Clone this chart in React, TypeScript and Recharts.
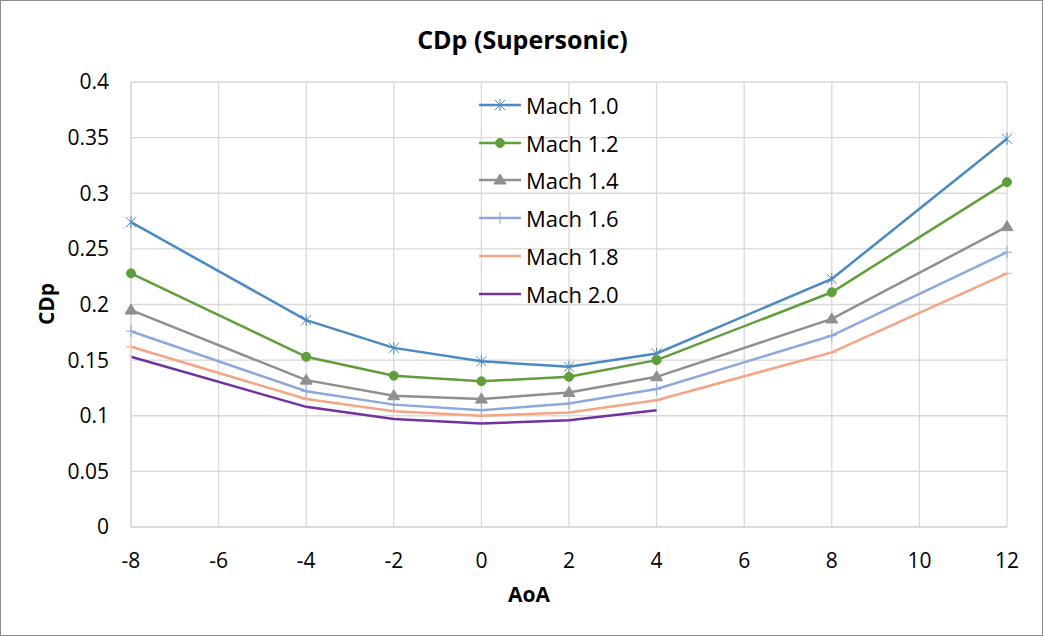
import { CartesianGrid, Line, LineChart, XAxis, YAxis } from "recharts";

const aoa = [-8, -4, -2, 0, 2, 4, 8, 12];
const mach10 = [0.274, 0.186, 0.161, 0.149, 0.144, 0.156, 0.223, 0.349];
const mach12 = [0.228, 0.153, 0.136, 0.131, 0.135, 0.15, 0.211, 0.31];
const mach14 = [0.195, 0.132, 0.118, 0.115, 0.121, 0.135, 0.187, 0.27];
const mach16 = [0.176, 0.122, 0.11, 0.105, 0.111, 0.124, 0.172, 0.247];
const mach18 = [0.162, 0.115, 0.104, 0.1, 0.103, 0.114, 0.157, 0.228];
const mach20 = [0.153, 0.108, 0.097, 0.093, 0.096, 0.105, null, null];

const xTicks = [-8, -6, -4, -2, 0, 2, 4, 6, 8, 10, 12];
const yTicks = [0, 0.05, 0.1, 0.15, 0.2, 0.25, 0.3, 0.35, 0.4];

const series = [
  { key: "m10", name: "Mach 1.0", values: mach10, color: "#4a89c2", marker: "star" },
  { key: "m12", name: "Mach 1.2", values: mach12, color: "#5f9e3a", marker: "circle" },
  { key: "m14", name: "Mach 1.4", values: mach14, color: "#8f8f8f", marker: "triangle" },
  { key: "m16", name: "Mach 1.6", values: mach16, color: "#8ea7dc", marker: "plus" },
  { key: "m18", name: "Mach 1.8", values: mach18, color: "#f4a584", marker: "dash" },
  { key: "m20", name: "Mach 2.0", values: mach20, color: "#7032a0", marker: "none" },
];

const data = aoa.map((x, i) => {
  const row: Record<string, number | null> = { aoa: x };
  series.forEach((s) => (row[s.key] = s.values[i]));
  return row;
});

const FONT = "'Open Sans', 'Liberation Sans', sans-serif";

function Marker({ cx, cy, kind, color }: { cx: number; cy: number; kind: string; color: string }) {
  if (cx == null || cy == null) return null;
  if (kind === "star")
    return (
      <g stroke={color} strokeWidth={1}>
        <line x1={cx - 5} y1={cy - 5} x2={cx + 5} y2={cy + 5} />
        <line x1={cx - 5} y1={cy + 5} x2={cx + 5} y2={cy - 5} />
        <line x1={cx} y1={cy - 6} x2={cx} y2={cy + 6} />
      </g>
    );
  if (kind === "circle") return <circle cx={cx} cy={cy} r={4.5} fill={color} stroke={color} />;
  if (kind === "triangle")
    return <path d={`M${cx},${cy - 6} L${cx + 6},${cy + 4} L${cx - 6},${cy + 4} Z`} fill={color} stroke={color} />;
  if (kind === "plus")
    return (
      <g stroke={color} strokeWidth={1}>
        <line x1={cx - 5} y1={cy} x2={cx + 5} y2={cy} />
        <line x1={cx} y1={cy - 6} x2={cx} y2={cy + 6} />
      </g>
    );
  if (kind === "dash")
    return <line x1={cx - 5} y1={cy} x2={cx + 5} y2={cy} stroke={color} strokeWidth={1} />;
  return null;
}

function LegendBox() {
  return (
    <div style={{ position: "absolute", left: 478, top: 85, fontFamily: FONT, fontSize: 22, color: "#000" }}>
      {series.map((s) => (
        <div key={s.key} style={{ display: "flex", alignItems: "center", height: 37.8 }}>
          <svg width={42} height={16} style={{ marginRight: 5 }}>
            <line x1={0} y1={8} x2={42} y2={8} stroke={s.color} strokeWidth={2.5} />
            <Marker cx={21} cy={8} kind={s.marker} color={s.color} />
          </svg>
          <span>{s.name}</span>
        </div>
      ))}
    </div>
  );
}

export default function App() {
  return (
    <div
      style={{
        position: "absolute",
        left: 0,
        top: 0,
        width: 1041,
        height: 634,
        border: "1px solid #8c8c8c",
        background: "#fff",
        fontFamily: FONT,
      }}
    >
      <LineChart
        width={1041}
        height={634}
        data={data}
        margin={{ top: 81, right: 35, bottom: 0, left: 0 }}
        style={{ position: "absolute", left: 0, top: 0 }}
      >
        <CartesianGrid stroke="#d9d9d9" strokeWidth={1.3} />
        <XAxis
          dataKey="aoa"
          type="number"
          domain={[-8, 12]}
          ticks={xTicks}
          interval={0}
          height={108}
          tickLine={false}
          axisLine={{ stroke: "#d9d9d9", strokeWidth: 1.3 }}
          tickSize={0}
          tickMargin={26}
          tick={{ fill: "#000", fontSize: 21, fontFamily: FONT }}
        />
        <YAxis
          type="number"
          domain={[0, 0.4]}
          ticks={yTicks}
          interval={0}
          width={130}
          tickLine={false}
          axisLine={{ stroke: "#d9d9d9", strokeWidth: 1.3 }}
          tickSize={0}
          tickMargin={22}
          tick={{ fill: "#000", fontSize: 21, fontFamily: FONT }}
        />
        {series.map((s) => (
          <Line
            key={s.key}
            dataKey={s.key}
            name={s.name}
            stroke={s.color}
            strokeWidth={2.5}
            isAnimationActive={false}
            connectNulls={false}
            dot={(p: any) => <Marker key={`${s.key}-${p.index}`} cx={p.cx} cy={p.cy} kind={s.marker} color={s.color} />}
            activeDot={false}
          />
        ))}
      </LineChart>
      <div
        style={{
          position: "absolute",
          left: 0,
          width: 1043,
          top: 21,
          textAlign: "center",
          fontSize: 25,
          fontWeight: "bold",
        }}
      >
        CDp (Supersonic)
      </div>
      <div
        style={{
          position: "absolute",
          left: 488,
          width: 80,
          top: 579,
          textAlign: "center",
          fontSize: 21,
          fontWeight: "bold",
        }}
      >
        AoA
      </div>
      <div
        style={{
          position: "absolute",
          left: 5,
          width: 80,
          top: 289,
          textAlign: "center",
          fontSize: 21,
          fontWeight: "bold",
          transform: "rotate(-90deg)",
        }}
      >
        CDp
      </div>
      <LegendBox />
    </div>
  );
}
